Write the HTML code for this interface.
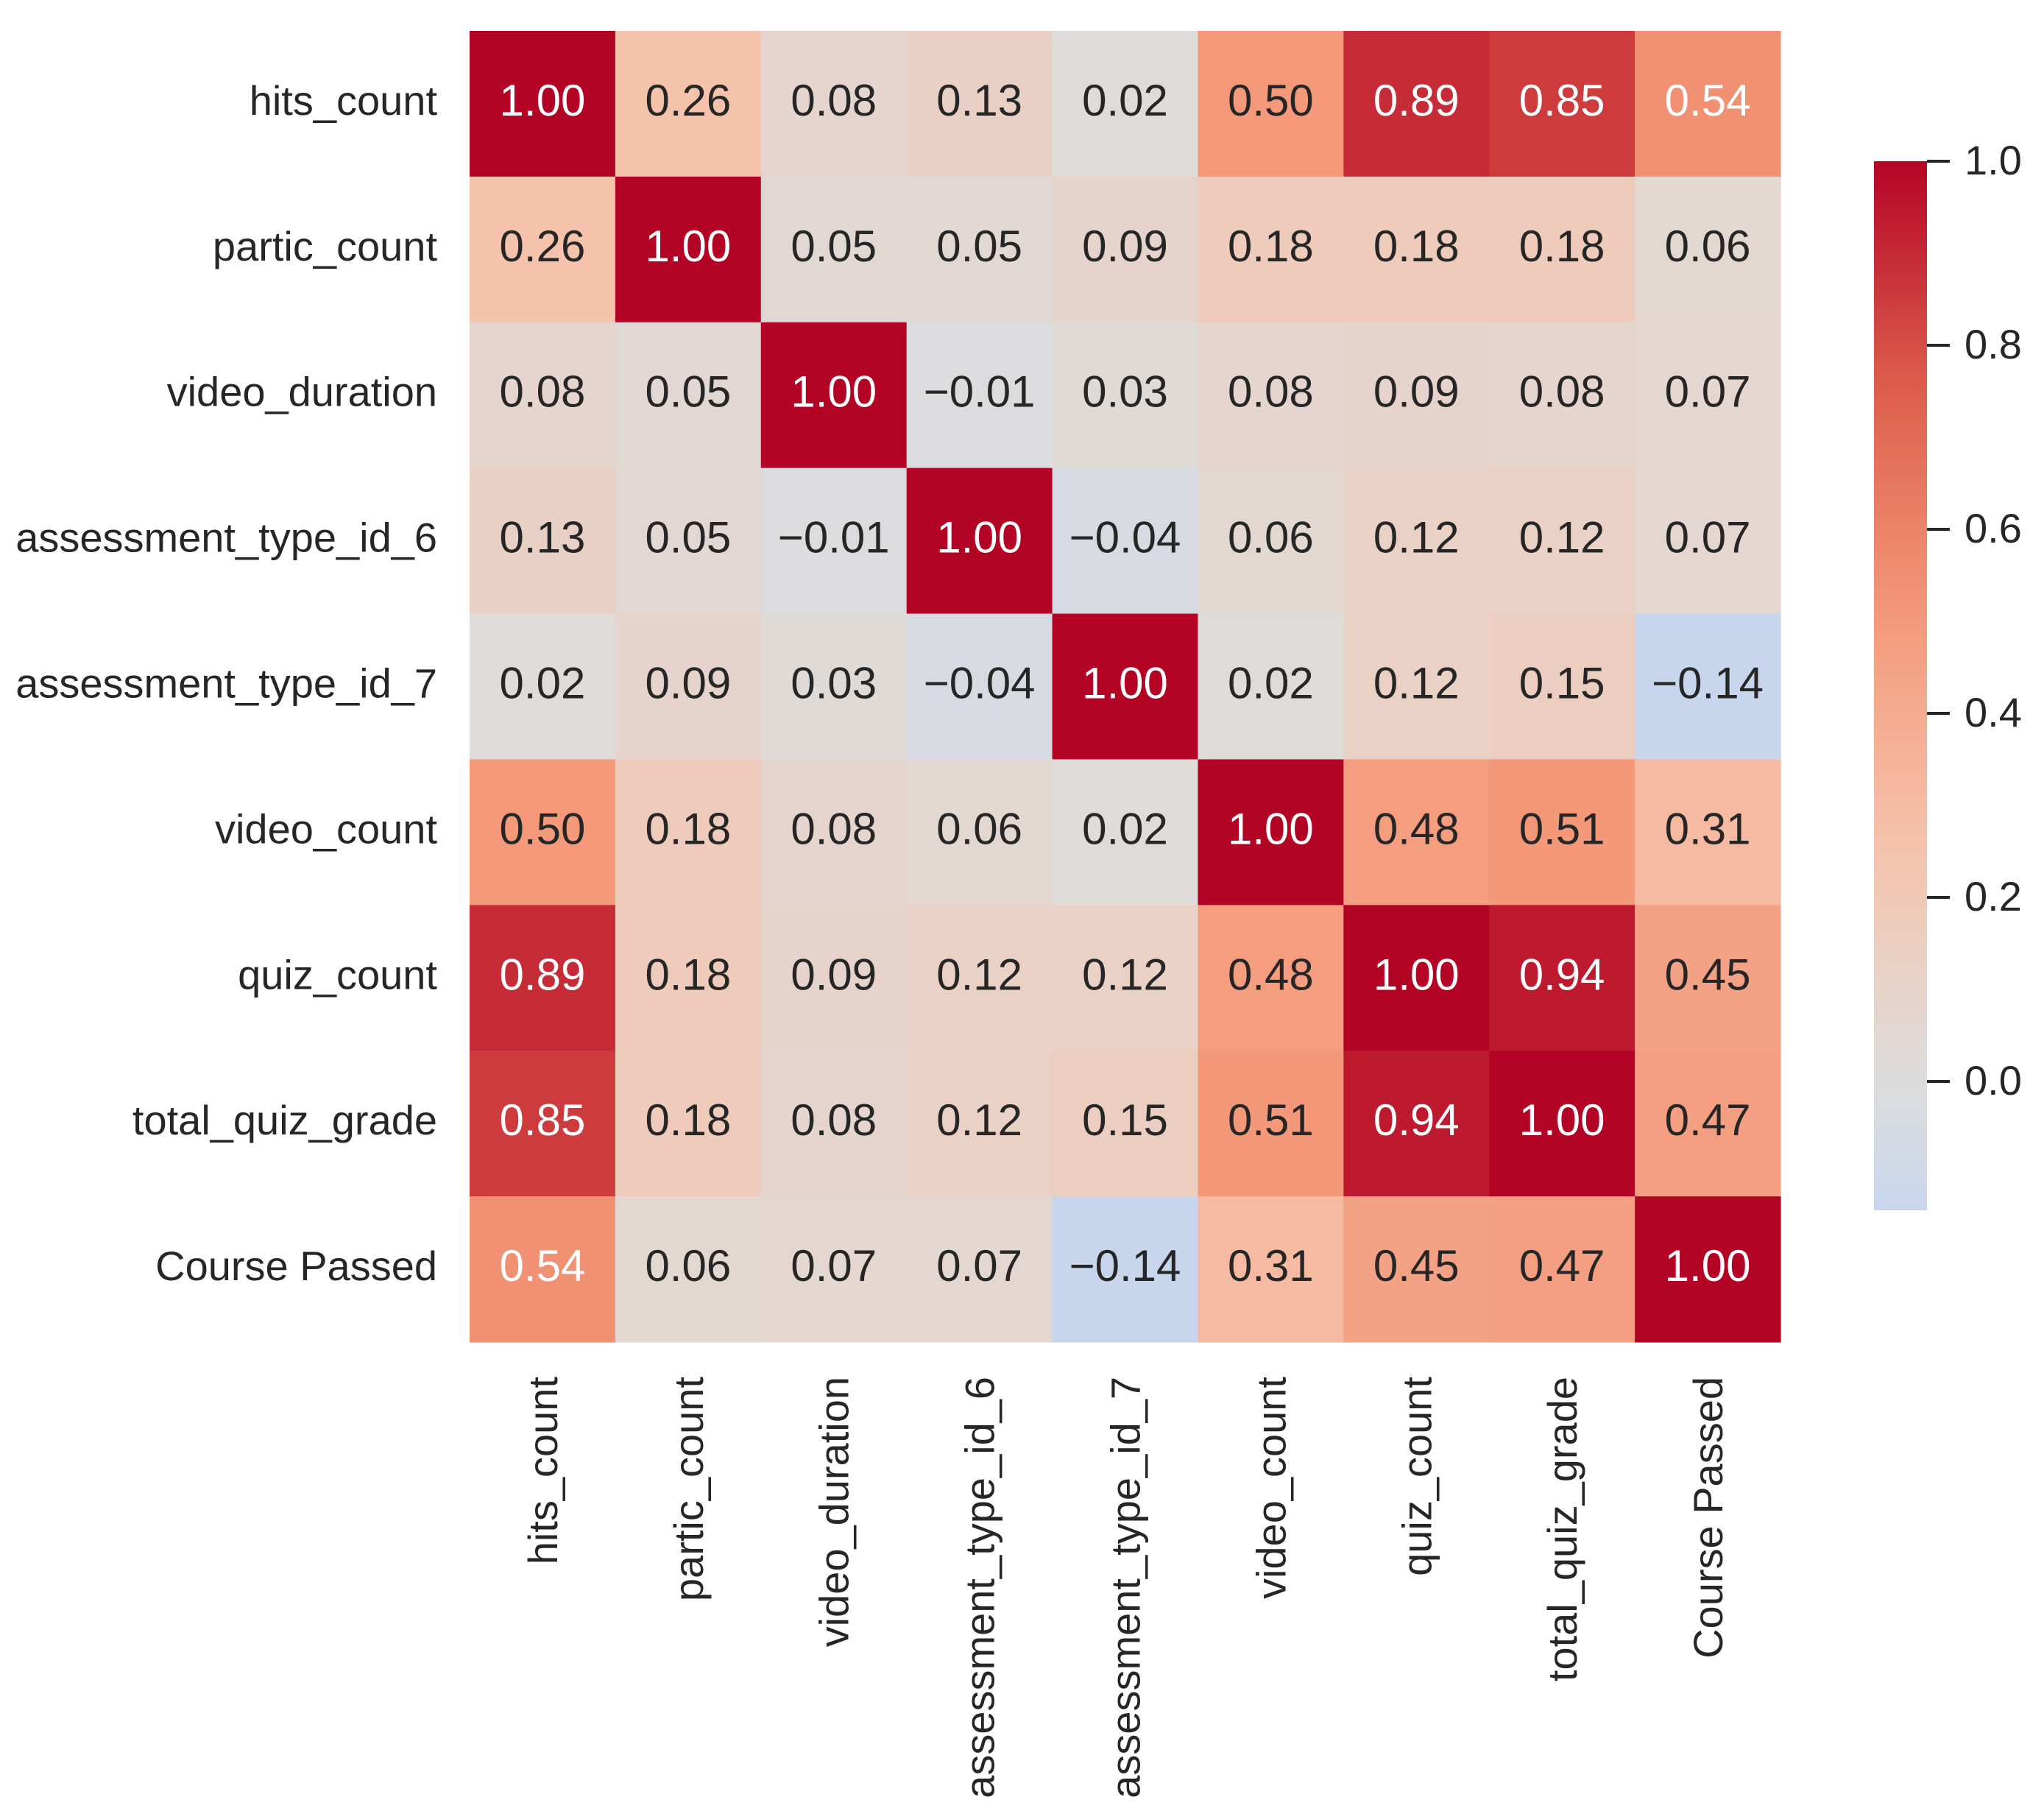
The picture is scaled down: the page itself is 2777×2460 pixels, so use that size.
<!DOCTYPE html>
<html><head><meta charset="utf-8">
<style>
html,body{margin:0;padding:0;background:#fff;}
svg text{font-family:"Liberation Sans",Arial,sans-serif;}
</style></head>
<body>
<svg id="chart" width="2777" height="2455" viewBox="0 0 2777 2455" xmlns="http://www.w3.org/2000/svg">
<defs><linearGradient id="cbgrad" x1="0" y1="1" x2="0" y2="0"></linearGradient></defs>
<g id="cells"></g>
<g id="ylabels"></g>
<g id="xlabels"></g>
<g id="cbar"></g>
</svg>
<script>
const labels = ["hits_count","partic_count","video_duration","assessment_type_id_6","assessment_type_id_7","video_count","quiz_count","total_quiz_grade","Course Passed"];
const row0 = [1.00,0.26,0.08,0.13,0.02,0.50,0.89,0.85,0.54];
const row1 = [0.26,1.00,0.05,0.05,0.09,0.18,0.18,0.18,0.06];
const row2 = [0.08,0.05,1.00,-0.01,0.03,0.08,0.09,0.08,0.07];
const row3 = [0.13,0.05,-0.01,1.00,-0.04,0.06,0.12,0.12,0.07];
const row4 = [0.02,0.09,0.03,-0.04,1.00,0.02,0.12,0.15,-0.14];
const row5 = [0.50,0.18,0.08,0.06,0.02,1.00,0.48,0.51,0.31];
const row6 = [0.89,0.18,0.09,0.12,0.12,0.48,1.00,0.94,0.45];
const row7 = [0.85,0.18,0.08,0.12,0.15,0.51,0.94,1.00,0.47];
const row8 = [0.54,0.06,0.07,0.07,-0.14,0.31,0.45,0.47,1.00];
const matrix = [row0,row1,row2,row3,row4,row5,row6,row7,row8];
const cbTicks = [0.0,0.2,0.4,0.6,0.8,1.0];
const vmin = -0.14, vmax = 1.0;

const NS="http://www.w3.org/2000/svg";
const L=638, T=42, W=1781, H=1781;
const n=labels.length, cw=W/n, ch=H/n;
const xPos=i=>L+i*cw, yPos=i=>T+i*ch;
const stops=[[59,76,192],[98,130,234],[141,176,254],[184,208,249],[221,221,221],[245,196,173],[244,154,123],[222,96,77],[180,4,38]];
function coolwarm(t){t=Math.max(0,Math.min(1,t));const p=t*8,i=Math.min(7,Math.floor(p)),f=p-i;const a=stops[i],b=stops[i+1];return [0,1,2].map(k=>Math.round(a[k]+(b[k]-a[k])*f));}
const colorOf=v=>coolwarm((v+1)/2);
function lum(c){const r=c.map(x=>{x/=255;return x<=0.03928?x/12.92:Math.pow((x+0.055)/1.055,2.4);});return 0.2126*r[0]+0.7152*r[1]+0.0722*r[2];}
function mk(tag,attrs,parent){const e=document.createElementNS(NS,tag);for(const k in attrs)e.setAttribute(k,attrs[k]);parent.appendChild(e);return e;}
const fmt=v=>(v<0?"\u2212":"")+Math.abs(v).toFixed(2);

const gc=document.getElementById('cells');
matrix.forEach((row,r)=>row.forEach((v,c)=>{
  const col=colorOf(v);
  const rect=mk('rect',{x:xPos(c),y:yPos(r),width:cw+0.6,height:ch+0.6,fill:`rgb(${col})`},gc);
  
  
  const t=mk('text',{x:xPos(c)+cw/2,y:yPos(r)+ch/2+16,'text-anchor':'middle','font-size':60,fill:lum(col)>0.408?'#262626':'#ffffff'},gc);
  t.textContent=fmt(v);
  
  
}));
const gy=document.getElementById('ylabels');
labels.forEach((lb,i)=>{
  const t=mk('text',{x:594,y:yPos(i)+ch/2+15,'text-anchor':'end','font-size':56,fill:'#262626'},gy);
  t.textContent=lb;
  
  
});
const gx=document.getElementById('xlabels');
labels.forEach((lb,i)=>{
  const cx=xPos(i)+cw/2+20, cy=1870;
  const t=mk('text',{x:cx,y:cy,'text-anchor':'end','font-size':56,fill:'#262626',transform:`rotate(-90 ${cx} ${cy})`},gx);
  t.textContent=lb;
  
  
});
// colorbar
const CBX=2546, CBW=72, CBT=219, CBB=1644;
const cy=v=>CBT+(vmax-v)/(vmax-vmin)*(CBB-CBT);
const grad=document.getElementById('cbgrad');
for(let k=0;k<=20;k++){const v=vmin+(vmax-vmin)*k/20;mk('stop',{offset:k/20,'stop-color':`rgb(${colorOf(v)})`},grad);}
const gb=document.getElementById('cbar');
const cr=mk('rect',{x:CBX,y:CBT,width:CBW,height:CBB-CBT,fill:'url(#cbgrad)'},gb);


cbTicks.forEach(v=>{
  const y=cy(v);
  const ln=mk('line',{x1:CBX+CBW,x2:CBX+CBW+31,y1:y,y2:y,stroke:'#262626','stroke-width':4},gb);
  
  
  const t=mk('text',{x:2669,y:y+18,'font-size':56,fill:'#262626'},gb);
  t.textContent=(v<0?"\u2212":"")+Math.abs(v).toFixed(1);
  
  
});
</script>
</body></html>
